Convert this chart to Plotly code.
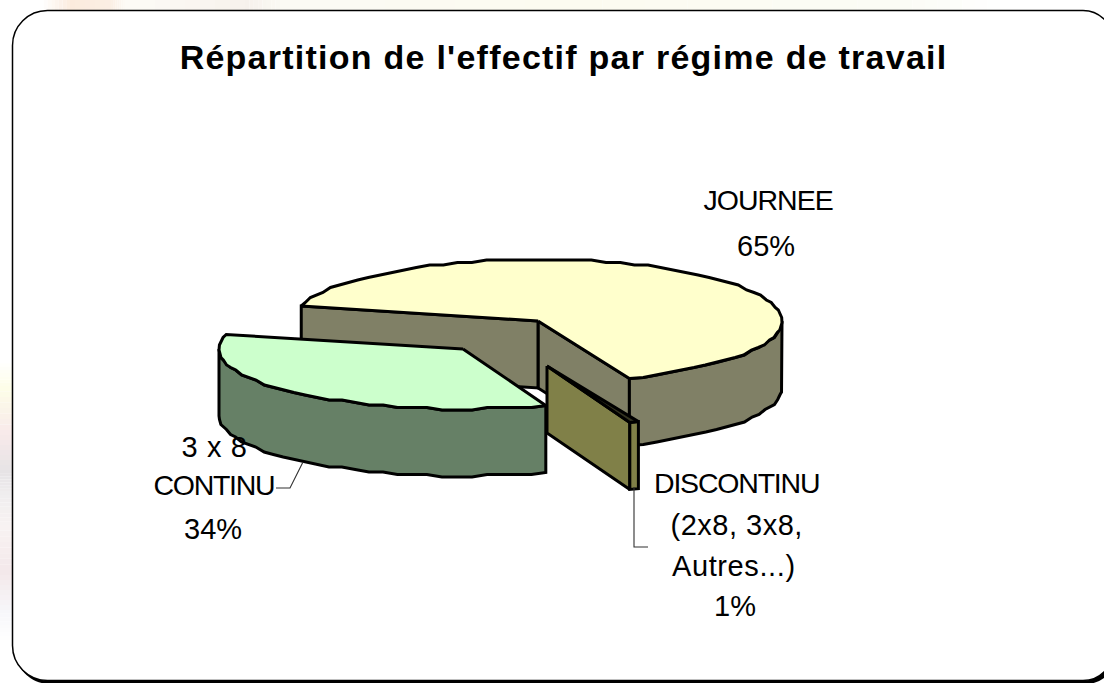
import json
import numpy as np
import plotly.graph_objects as go

# ---- data ----
categories = ["JOURNEE", "3 x 8 CONTINU", "DISCONTINU (2x8, 3x8, Autres...)"]
values = [65.0, 34.4, 0.6]
title_text = "Répartition de l'effectif par régime de travail"

# ---- 3D pie styling ----
first_angle = -68.0          # degrees, counter-clockwise from east
apex_x = [538, 463, 547]
apex_y = [321, 349, 366]
radius_x = [244, 244, 244]
radius_y = [62, 60, 60]
depth = 67
top_colors = ["#FFFFCC", "#CCFFCC", "#333320"]
wall_colors = ["#808066", "#668066", "#808048"]
EDGE = 3

fig = go.Figure()


def poly(xs, ys, fill, width=EDGE, line="#000000"):
    fig.add_trace(go.Scatter(x=list(xs), y=list(ys), mode="lines", fill="toself",
                             fillcolor=fill, line=dict(color=line, width=width),
                             hoverinfo="skip", showlegend=False))


def jag(v, step=2.5):
    return np.round(np.asarray(v) / step) * step


def arc(i, a0, a1):
    n = max(2, int(abs(a1 - a0) / 3.5) + 1)
    t = np.radians(np.linspace(a0, a1, n))
    x = apex_x[i] + radius_x[i] * np.cos(t)
    y = apex_y[i] - radius_y[i] * np.sin(t)
    y[1:-1] = jag(y[1:-1])
    return x, y


def radial_face(i, a):
    x, y = arc(i, a, a)
    xs = [apex_x[i], x[0], x[0], apex_x[i], apex_x[i]]
    ys = [apex_y[i], y[0], y[0] + depth, apex_y[i] + depth, apex_y[i]]
    poly(xs, ys, wall_colors[i])


def wall(i, a0, a1):
    x, y = arc(i, a0, a1)
    poly(np.r_[x, x[::-1], x[0]], np.r_[y, y[::-1] + depth, y[0]], wall_colors[i])


def top(i, a0, a1):
    x, y = arc(i, a0, a1)
    poly(np.r_[apex_x[i], x, apex_x[i]], np.r_[apex_y[i], y, apex_y[i]], top_colors[i])


sweeps = [v / sum(values) * 360 for v in values]
starts = [first_angle, first_angle + sweeps[0], first_angle + sweeps[0] + sweeps[1]]
ends = [s + w for s, w in zip(starts, sweeps)]

# slice 0: JOURNEE
radial_face(0, starts[0])
radial_face(0, ends[0])
wall(0, starts[0], 0)
top(0, starts[0], ends[0])
# slice 1: CONTINU
wall(1, 180, ends[1])
top(1, starts[1], ends[1])
# slice 2: DISCONTINU
radial_face(2, starts[2])
wall(2, starts[2], ends[2])
top(2, starts[2], ends[2])

# leader lines
for lx, ly in [([303, 290, 276], [462, 488, 488]), ([634, 634, 648], [487, 547, 547])]:
    fig.add_trace(go.Scatter(x=lx, y=ly, mode="lines", line=dict(color="#303030", width=1.1),
                             hoverinfo="skip", showlegend=False))

# labels
FONT = "Liberation Sans, Arial, sans-serif"
pct = ["%d%%" % round(v) for v in values]
label_lines = [
    ("JOURNEE", 768, 200, 28.5), (pct[0], 766, 246, 29),
    ("3 x 8", 214, 447, 29), ("CONTINU", 214, 485, 28.5), (pct[1], 213, 529, 29),
    ("DISCONTINU", 736, 483, 28.5), ("(2x8, 3x8,", 736, 525, 29),
    ("Autres...)", 734, 566, 29), (pct[2], 735, 606, 29),
]
annotations = [dict(x=x, y=y, text=t, showarrow=False, xanchor="center", yanchor="middle",
                    font=dict(family=FONT, size=s, color="#000000"))
               for t, x, y, s in label_lines]
annotations.append(dict(x=563, y=57, text="<b>%s</b>" % title_text, showarrow=False,
                        xanchor="center", yanchor="middle",
                        font=dict(family=FONT, size=34, color="#000000")))
letter_spacing = {"JOURNEE": -1.0, "CONTINU": -1.3, "DISCONTINU": -1.2, "Autres...)": 0.6,
                  "3 x 8": 0.6, "(2x8, 3x8,": 0.5, title_text: 1.25}


def frame(x0, y0, x1, y1, rl, rr):
    kl = rl * 0.4477  # distance from the corner to the Bezier control point
    kr = rr * 0.4477
    return (f"M{x0+rl},{y0} L{x1-rr},{y0} C{x1-kr},{y0} {x1},{y0+kr} {x1},{y0+rr} L{x1},{y1-rr} "
            f"C{x1},{y1-kr} {x1-kr},{y1} {x1-rr},{y1} L{x0+rl},{y1} "
            f"C{x0+kl},{y1} {x0},{y1-kl} {x0},{y1-rl} L{x0},{y0+rl} "
            f"C{x0},{y0+kl} {x0+kl},{y0} {x0+rl},{y0} Z")


# faint blurred backdrop seen around the frame
left_stops = [(360, "#FFFFFF"), (386, "#FDFDE8"), (430, "#F8EAEA"), (470, "#E6E3E5"),
              (495, "#F0EEEF"), (525, "#F8F2F2"), (570, "#F3E8EA"), (610, "#F7F7FA"), (640, "#FFFFFF")]
top_stops = [(40, "#FFFFFF"), (70, "#FBEBDD"), (110, "#FBEFE4"), (125, "#FDFBF6"),
             (245, "#F6F1EC"), (280, "#FBFAF4"), (560, "#FCFBF0"), (900, "#FBFCF6"), (1000, "#FFFFFF")]


def mix(c1, c2, f):
    a = [int(c1[i:i + 2], 16) for i in (1, 3, 5)]
    b = [int(c2[i:i + 2], 16) for i in (1, 3, 5)]
    return "#%02X%02X%02X" % tuple(round(p + (q - p) * f) for p, q in zip(a, b))


shapes = []
for stops, vertical in ((left_stops, True), (top_stops, False)):
    for (p0, c0), (p1, c1) in zip(stops, stops[1:]):
        for k in range(8):
            u0 = p0 + (p1 - p0) * k / 8
            u1 = p0 + (p1 - p0) * (k + 1) / 8
            box = dict(x0=0, x1=13, y0=u0, y1=u1) if vertical else dict(x0=u0, x1=u1, y0=0, y1=11)
            shapes.append(dict(type="rect", layer="below", fillcolor=mix(c0, c1, k / 8), line_width=0, **box))
shapes.append(dict(type="path", layer="below", path=frame(15, 13, 1116, 684, 35, 30),
                   fillcolor="#000000", line_width=0))
shapes.append(dict(type="path", layer="below", path=frame(12.5, 10.5, 1113, 680.5, 35, 30),
                   fillcolor="#FFFFFF", line=dict(color="#000000", width=1.5)))

fig.update_layout(
    width=1104, height=683, margin=dict(l=0, r=0, t=0, b=0),
    paper_bgcolor="#FFFFFF", plot_bgcolor="rgba(0,0,0,0)", showlegend=False,
    xaxis=dict(range=[0, 1104], visible=False, fixedrange=True),
    yaxis=dict(range=[683, 0], visible=False, fixedrange=True),
    annotations=annotations, shapes=shapes,
)
post = """
document.body.style.margin = '0';
document.documentElement.style.overflow = 'hidden';
var sp = %s;
document.querySelectorAll('.annotation-text').forEach(function (t) {
  var s = sp[t.textContent];
  if (s !== undefined) { t.style.letterSpacing = s + 'px'; }
});
""" % json.dumps(letter_spacing)
fig.write_html("out.html", config=dict(displayModeBar=False), post_script=post)
